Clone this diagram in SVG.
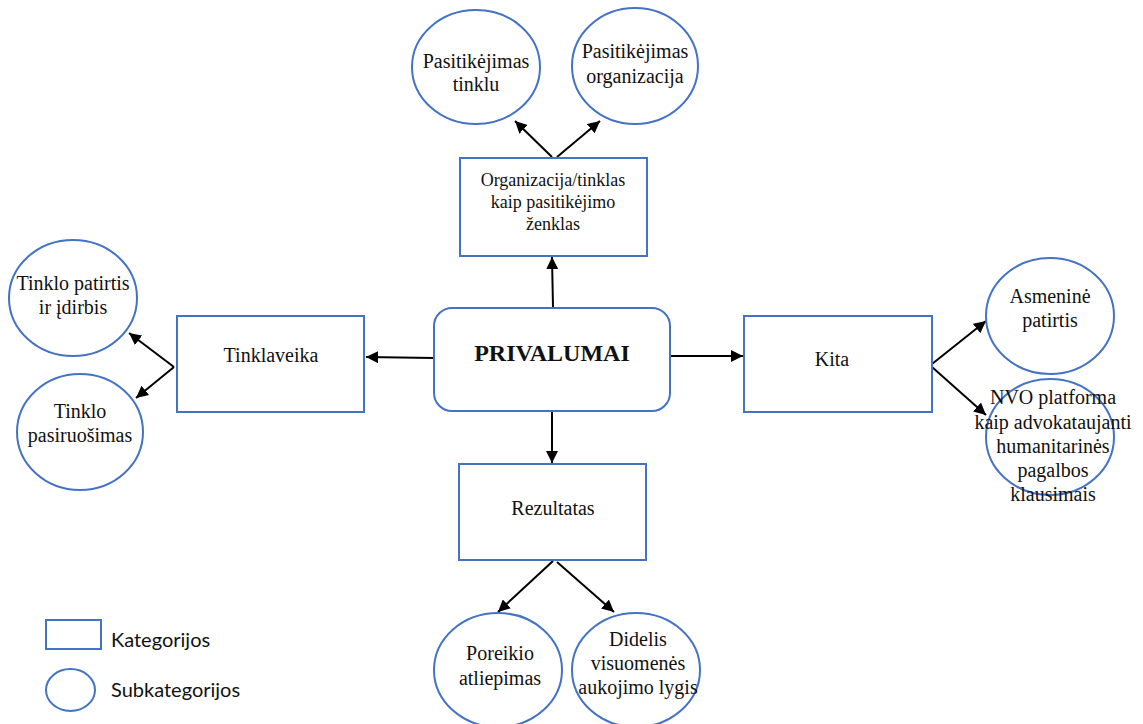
<svg xmlns="http://www.w3.org/2000/svg" width="1143" height="724" viewBox="0 0 1143 724">
<style>
.box{fill:#fff;stroke:#4472C4;stroke-width:2}
.ell{fill:#fff;stroke:#4472C4;stroke-width:2}
.t{font-family:"Liberation Serif","Times New Roman",serif;font-size:20px;fill:#111;text-anchor:middle}
.ts{font-family:"Liberation Serif","Times New Roman",serif;font-size:18px;fill:#111;text-anchor:middle}
.tb{font-family:"Liberation Serif","Times New Roman",serif;font-size:24px;font-weight:bold;fill:#111;text-anchor:middle}
.lg{font-family:"Lato","Liberation Sans",sans-serif;font-size:20px;fill:#111}
.c{stroke:#000;stroke-width:2;fill:none;marker-end:url(#ah)}
</style>
<defs>
<marker id="ah" markerUnits="userSpaceOnUse" markerWidth="14" markerHeight="12" refX="12" refY="6" orient="auto">
<path d="M0,0 L12,6 L0,12 Z" fill="#000"/>
</marker>
</defs>
<rect width="1143" height="724" fill="#fff"/>

<g id="connectors">
<line class="c" x1="553" y1="307" x2="552" y2="257"/>
<line class="c" x1="552" y1="157" x2="515" y2="121"/>
<line class="c" x1="557" y1="157" x2="600" y2="121"/>
<line class="c" x1="434" y1="358" x2="366" y2="357"/>
<line class="c" x1="174" y1="367" x2="129" y2="333"/>
<line class="c" x1="174" y1="367" x2="136" y2="398"/>
<line class="c" x1="671" y1="356" x2="743" y2="356"/>
<line class="c" x1="932" y1="364" x2="986" y2="321"/>
<line class="c" x1="932" y1="367" x2="986" y2="415"/>
<line class="c" x1="552" y1="412" x2="552" y2="463"/>
<line class="c" x1="553" y1="561" x2="498" y2="612"/>
<line class="c" x1="557" y1="562" x2="614" y2="612"/>
</g>

<g id="privalumai">
<rect class="box" x="434" y="308" width="236" height="103" rx="18"/>
<text class="tb" x="552" y="361">PRIVALUMAI</text>
</g>

<g id="organizacija">
<rect class="box" x="460" y="158" width="187" height="98"/>
<text class="ts" x="553" y="186">Organizacija/tinklas</text>
<text class="ts" x="553" y="208">kaip pasitikėjimo</text>
<text class="ts" x="553" y="230">ženklas</text>
</g>

<g id="pasitikejimas-tinklu">
<ellipse class="ell" cx="476" cy="67" rx="64" ry="57"/>
<text class="t" x="476" y="68">Pasitikėjimas</text>
<text class="t" x="476" y="91">tinklu</text>
</g>

<g id="pasitikejimas-organizacija">
<ellipse class="ell" cx="635" cy="66" rx="63" ry="58"/>
<text class="t" x="635" y="58">Pasitikėjimas</text>
<text class="t" x="635" y="83">organizacija</text>
</g>

<g id="tinklaveika">
<rect class="box" x="177" y="316" width="187" height="96"/>
<text class="t" x="271" y="362">Tinklaveika</text>
</g>

<g id="tinklo-patirtis">
<ellipse class="ell" cx="73" cy="298" rx="64" ry="58"/>
<text class="t" x="73" y="290">Tinklo patirtis</text>
<text class="t" x="73" y="314">ir įdirbis</text>
</g>

<g id="tinklo-pasiruosimas">
<ellipse class="ell" cx="80" cy="432" rx="63" ry="58"/>
<text class="t" x="80" y="418">Tinklo</text>
<text class="t" x="80" y="442">pasiruošimas</text>
</g>

<g id="kita">
<rect class="box" x="744" y="316" width="188" height="96"/>
<text class="t" x="832" y="366">Kita</text>
</g>

<g id="asmenine-patirtis">
<ellipse class="ell" cx="1050" cy="316" rx="64" ry="58"/>
<text class="t" x="1050" y="303">Asmeninė</text>
<text class="t" x="1050" y="327">patirtis</text>
</g>

<g id="nvo-platforma">
<ellipse class="ell" cx="1050" cy="437" rx="64" ry="58"/>
<text class="t" x="1053" y="404">NVO platforma</text>
<text class="t" x="1053" y="429">kaip advokataujanti</text>
<text class="t" x="1053" y="453">humanitarinės</text>
<text class="t" x="1053" y="477">pagalbos</text>
<text class="t" x="1053" y="501">klausimais</text>
</g>

<g id="rezultatas">
<rect class="box" x="459" y="464" width="187" height="96"/>
<text class="t" x="553" y="515">Rezultatas</text>
</g>

<g id="poreikio-atliepimas">
<ellipse class="ell" cx="498" cy="670" rx="64" ry="57"/>
<text class="t" x="500" y="660">Poreikio</text>
<text class="t" x="500" y="685">atliepimas</text>
</g>

<g id="didelis">
<ellipse class="ell" cx="636" cy="670" rx="64" ry="57"/>
<text class="t" x="638" y="646">Didelis</text>
<text class="t" x="638" y="670">visuomenės</text>
<text class="t" x="638" y="694">aukojimo lygis</text>
</g>

<g id="legend">
<rect class="box" x="46" y="620" width="55" height="29"/>
<text class="lg" x="111" y="647">Kategorijos</text>
<ellipse class="ell" cx="70.5" cy="690" rx="24.5" ry="21"/>
<text class="lg" x="111" y="697">Subkategorijos</text>
</g>
</svg>
